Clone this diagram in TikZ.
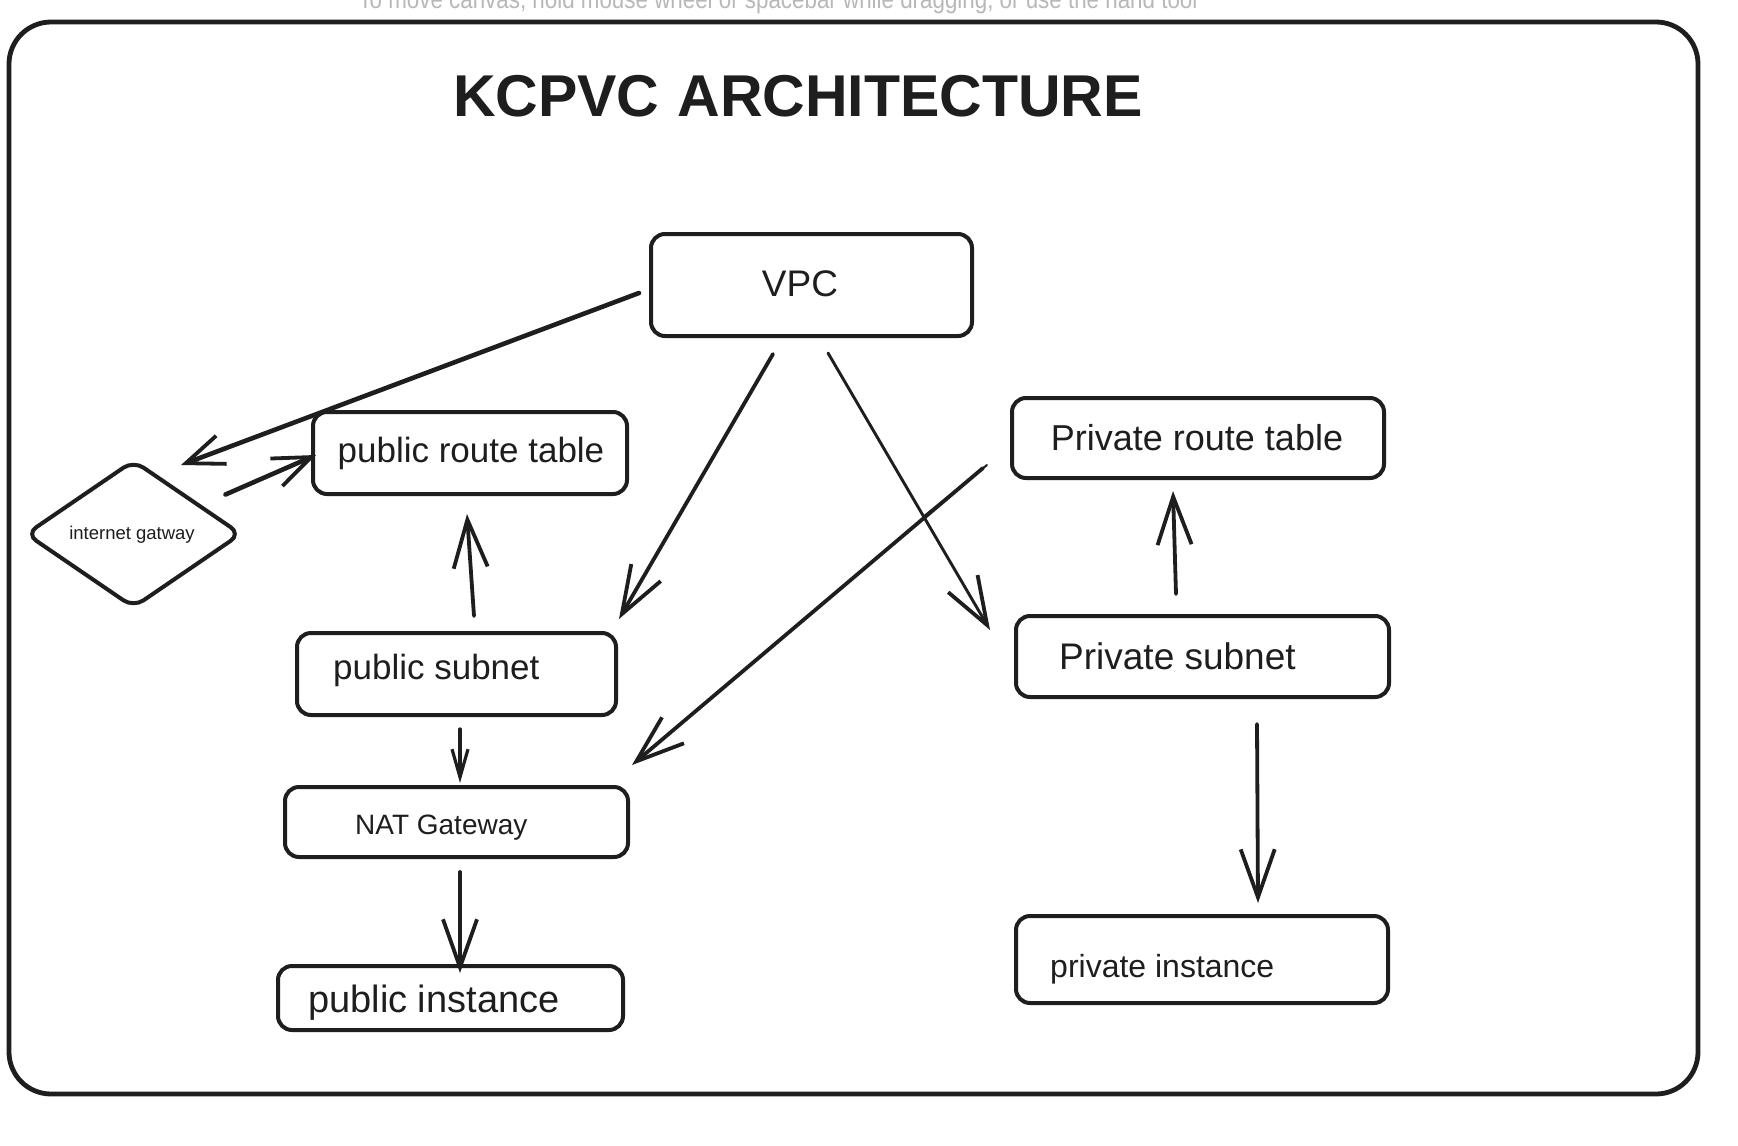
\documentclass[tikz,border=0pt]{standalone}
\usepackage{fontspec}
\setmainfont{Liberation Sans}
\newfontfamily\hintfont[FakeStretch=0.86]{Liberation Sans}
\usetikzlibrary{arrows.meta,shapes.geometric,calc}
\definecolor{ink}{HTML}{1E1E1E}
\definecolor{hint}{HTML}{B8B8B8}
\begin{document}
\begin{tikzpicture}[x=1pt,y=-1pt,
  box/.style={draw=ink, line width=4pt, rounded corners=14pt, inner sep=0pt},
  lbl/.style={text=ink, inner sep=0pt},
  arr/.style={draw=ink, line width=3.8pt, line cap=round,
     -{Straight Barb[length=48pt,width=34pt,line width=3.8pt]}},
  arrs/.style={draw=ink, line width=3.8pt, line cap=round,
     -{Straight Barb[length=38pt,width=30pt,line width=3.8pt]}}]
\useasboundingbox (0,0) rectangle (1738,1146);
\clip (0,0) rectangle (1738,1146);
\fill[white] (0,0) rectangle (1738,1146);

% hint text (cut off at top, as in the reference)
\node[anchor=base, text=hint, inner sep=0pt, font=\hintfont\fontsize{26}{30}\selectfont] (hinttxt) at (778,8)
  {To move canvas, hold mouse wheel or spacebar while dragging, or use the hand tool};

% outer frame
\draw[ink, line width=4.8pt, rounded corners=42pt] (9,22) rectangle (1698,1094);

% title
\node[lbl, font=\bfseries\fontsize{59}{66}\selectfont] (title) at (798,96) {KCPVC\hspace{18pt}ARCHITECTURE};

% boxes
\node[box, minimum width=321pt, minimum height=102pt] (vpc) at (811.5,285) {};
\node[lbl, font=\fontsize{37}{42}\selectfont] (vpctxt) at (800,284) {VPC};

\node[box, minimum width=314pt, minimum height=82pt] (pubrt) at (470,453) {};
\node[lbl, font=\fontsize{35}{42}\selectfont] (pubrttxt) at (471,453) {public route table};

\node[draw=ink, line width=4pt, diamond, rounded corners=12pt, inner sep=0pt,
      minimum width=216pt, minimum height=148pt] (igw) at (133.5,534) {};
\node[lbl, font=\fontsize{18.5}{22}\selectfont] (igwtxt) at (132,535) {internet gatway};

\node[box, minimum width=319pt, minimum height=82pt] (pubsub) at (456.5,674) {};
\node[lbl, anchor=west, font=\fontsize{35}{42}\selectfont] (pubsubtxt) at (333,670) {public subnet};

\node[box, minimum width=343pt, minimum height=70pt] (nat) at (456.5,822) {};
\node[lbl, anchor=west, font=\fontsize{28}{34}\selectfont] (nattxt) at (355,828) {NAT Gateway};

\node[box, minimum width=345pt, minimum height=64pt] (pubinst) at (450.5,998) {};
\node[lbl, anchor=west, font=\fontsize{38}{44}\selectfont] (pubinsttxt) at (308,1003) {public instance};

\node[box, minimum width=372pt, minimum height=80pt] (privrt) at (1198,438) {};
\node[lbl, font=\fontsize{36}{42}\selectfont] (privrttxt) at (1197,438) {Private route table};

\node[box, minimum width=373pt, minimum height=81pt] (privsub) at (1202.5,656.5) {};
\node[lbl, anchor=west, font=\fontsize{37}{44}\selectfont] (privsubtxt) at (1059,656) {Private subnet};

\node[box, minimum width=372pt, minimum height=87pt] (privinst) at (1202,959.5) {};
\node[lbl, anchor=west, font=\fontsize{32}{38}\selectfont] (privinsttxt) at (1050,969) {private instance};

% connectors
\draw[arrs, line width=4.6pt] ([xshift=-10pt,yshift=-8pt]vpc.west) -- ([xshift=47.5pt,yshift=-7pt]igw.north);
\draw[arrs, line width=4.6pt] ([xshift=37pt,yshift=1.5pt]igw.north east) -- ([xshift=5pt,yshift=-2pt]pubrt.west);
\draw[arr] ([xshift=-38.5pt,yshift=-16pt]vpc.south) -- ([xshift=1pt,yshift=12pt]pubsub.north east);
\draw[arr, line width=2.9pt] ([xshift=16.5pt,yshift=-15pt]vpc.south) -- ([xshift=-24pt,yshift=-16pt]privsub.north west);
\draw[arr] ([xshift=-27pt,yshift=12pt]privrt.south west) -- ([xshift=2pt,yshift=20pt]nat.north east);
\draw[ink, line width=2pt, line cap=round] ([xshift=-23pt,yshift=15pt]privrt.south west) -- ++(-64,52);
\draw[arr] ([xshift=17.5pt,yshift=15pt]pubsub.north) -- ([xshift=-3pt,yshift=-18pt]pubrt.south);
\draw[draw=ink, line width=3.2pt, line cap=round, -{Straight Barb[length=28pt,width=16pt,line width=3.2pt]}]
  ([xshift=3.5pt,yshift=-12pt]pubsub.south) -- ([xshift=3.5pt,yshift=2pt]nat.north);
\draw[arr] ([xshift=3.5pt,yshift=-13pt]nat.south) -- ([xshift=9.5pt,yshift=-9pt]pubinst.north);
\draw[arr] ([xshift=-26.5pt,yshift=20pt]privsub.north) -- ([xshift=-25pt,yshift=-11pt]privrt.south);
\draw[arr] ([xshift=54.5pt,yshift=-25pt]privsub.south) -- ([xshift=56pt,yshift=11pt]privinst.north);
\end{tikzpicture}
\end{document}
